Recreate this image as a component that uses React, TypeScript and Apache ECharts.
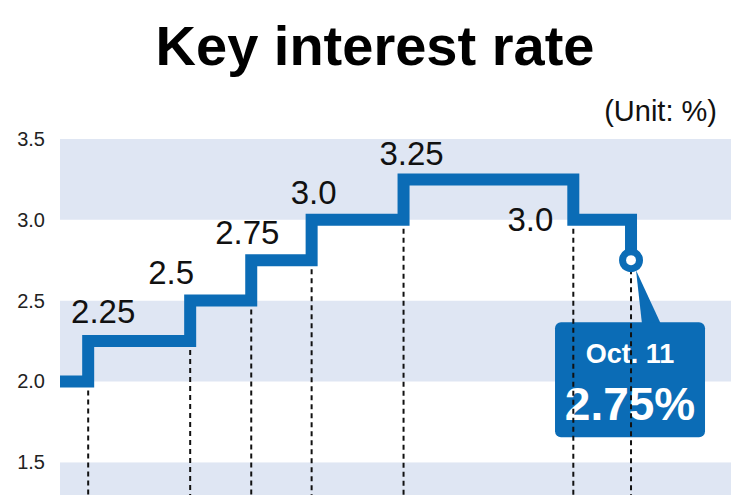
import React, { useEffect, useRef } from "react";
import * as echarts from "echarts";

// Horizontal position of each rate change along the chart (0-100 scale)
const stepPositions = [0, 4.2, 19.4, 28.5, 37.5, 51.2, 76.5, 85.1];
// Key interest rate after each change (%)
const rates = [2.0, 2.25, 2.5, 2.75, 3.0, 3.25, 3.0, 2.75];
// Text labels shown beside each level
const rateLabels = ["", "2.25", "2.5", "2.75", "3.0", "3.25", "3.0", ""];
// Y axis tick values (the lowest one lies below the visible picture)
const yTicks = [1.0, 1.5, 2.0, 2.5, 3.0, 3.5];
// Callout text
const calloutDate = "Oct. 11";
const calloutRate = "2.75%";

const labelOffsets: ([number, number] | null)[] = [null, [15, -30], [-19, -28], [-4, -28], [2, -27], [8, -26], [-43, 0], null];

const BLUE = "#0b6cb6";
const BAND = "#dfe6f3";
const FONT = "'Liberation Sans', Arial, sans-serif";

export default function App() {
  const ref = useRef<HTMLDivElement>(null);
  useEffect(() => {
    if (!ref.current) return;
    const chart = echarts.init(ref.current, undefined, { renderer: "svg" });
    const yMin = yTicks[0];
    const yMax = yTicks[yTicks.length - 1];

    const lineData = stepPositions.map((x, i) => [x, rates[i]]);

    const dashSeries = stepPositions.slice(1).map((x, k) => {
      const i = k + 1;
      const top = Math.min(rates[i - 1], rates[i]);
      return {
        type: "line" as const,
        data: [[x, top], [x, yMin]],
        symbol: "none",
        silent: true,
        z: 1,
        lineStyle: { color: "#111", width: 2, type: [5, 4] as any },
      };
    });

    const labelData = stepPositions
      .map((x, i) => ({ i, x }))
      .filter(({ i }) => rateLabels[i] !== "")
      .map(({ i, x }) => ({
        value: [x, rates[i]],
        label: {
          show: true,
          position: "inside",
          formatter: rateLabels[i],
          offset: labelOffsets[i] || [0, 0],
        },
      }));

    const last = lineData.length - 1;

    chart.setOption({
      animation: false,
      grid: { left: 60, right: 19, top: 139, bottom: 10 },
      xAxis: {
        type: "value",
        min: 0,
        max: 100,
        show: false,
      },
      yAxis: {
        type: "value",
        min: yMin,
        max: yMax,
        interval: 0.5,
        axisLine: { show: false },
        axisTick: { show: false },
        splitLine: { show: false },
        splitArea: { show: true, areaStyle: { color: [BAND, "#ffffff"] } },
        axisLabel: {
          margin: 15,
          fontSize: 20,
          color: "#222",
          fontFamily: FONT,
          showMinLabel: false,
          formatter: (v: number) => v.toFixed(1),
        },
      },
      series: [
        ...dashSeries,
        {
          type: "line",
          step: "end",
          data: lineData,
          symbol: "none",
          z: 3,
          lineStyle: { color: BLUE, width: 12, join: "miter", cap: "butt" },
        },
        {
          type: "scatter",
          data: labelData,
          symbolSize: 0,
          z: 4,
          itemStyle: { opacity: 1 },
          label: {
            fontSize: 33,
            color: "#111",
            fontFamily: FONT,
            align: "center",
            verticalAlign: "middle",
          },
        },
        {
          type: "scatter",
          data: [lineData[last]],
          symbol: "circle",
          symbolSize: 17,
          z: 5,
          itemStyle: { color: "#ffffff", borderColor: BLUE, borderWidth: 7, opacity: 1 },
        },
      ],
    });

    const [cx, cy] = chart.convertToPixel({ gridIndex: 0 }, lineData[last]) as number[];

    chart.setOption({
      graphic: [
        {
          type: "text",
          left: "center",
          top: 17,
          style: {
            text: "Key interest rate",
            font: `bold 56px ${FONT}`,
            fill: "#000",
          },
        },
        {
          type: "text",
          x: 717,
          y: 111,
          style: {
            text: "(Unit: %)",
            font: `29px ${FONT}`,
            fill: "#111",
            align: "right",
            verticalAlign: "middle",
          },
        },
        {
          type: "group",
          x: cx,
          y: cy,
          z: 100,
          children: [
            {
              type: "polygon",
              shape: { points: [[5, 10], [11, 64], [30, 64]] },
              style: { fill: BLUE },
            },
            {
              type: "rect",
              shape: { x: -76, y: 62, width: 150, height: 115, r: 6 },
              style: { fill: BLUE },
            },
            {
              type: "text",
              x: -1,
              y: 94,
              style: {
                text: calloutDate,
                font: `bold 27px ${FONT}`,
                fill: "#fff",
                align: "center",
                verticalAlign: "middle",
              },
            },
            {
              type: "text",
              x: -1,
              y: 144,
              style: {
                text: calloutRate,
                font: `bold 46px ${FONT}`,
                fill: "#fff",
                align: "center",
                verticalAlign: "middle",
              },
            },
          ],
        },
      ],
    });

    return () => chart.dispose();
  }, []);

  return (
    <div style={{ position: "fixed", left: 0, top: 0, width: 750, height: 495, overflow: "hidden", background: "#fff" }}>
      <div ref={ref} style={{ width: 750, height: 553 }} />
    </div>
  );
}
